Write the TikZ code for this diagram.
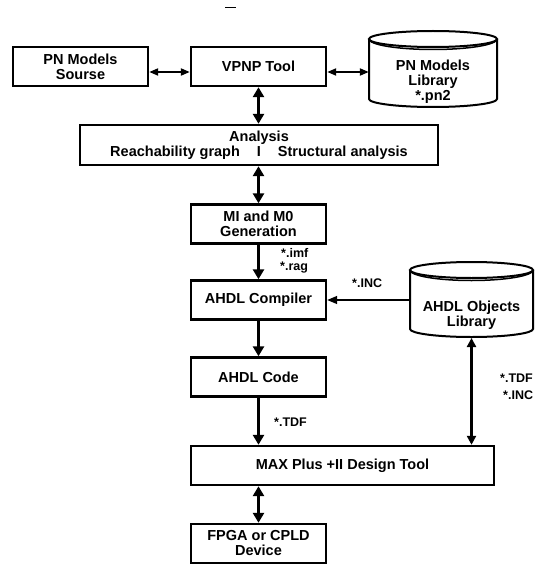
\documentclass[tikz,border=0pt]{standalone}
\usepackage{fontspec}
\setmainfont{Liberation Sans}
\usetikzlibrary{arrows.meta}
\tikzset{
  box/.style={draw, line width=2.4pt, minimum width=135pt, minimum height=39pt, inner sep=0pt, align=center, font=\bfseries\fontsize{14.5}{15}\selectfont},
  cyltext/.style={inner sep=0pt, align=center, font=\bfseries\fontsize{14.5}{15}\selectfont},
  cylline/.style={line width=2pt},
  cylrim/.style={line width=1.5pt},
  big/.style={line width=3.5pt, -{Triangle[length=10pt,width=11pt]}},
  bigdbl/.style={line width=3.5pt, {Triangle[length=10pt,width=11pt]}-{Triangle[length=10pt,width=11pt]}},
  meddbl/.style={line width=2.6pt, {Triangle[length=9pt,width=9pt]}-{Triangle[length=9pt,width=9pt]}},
  thindbl/.style={line width=2pt, {Triangle[length=9pt,width=7pt]}-{Triangle[length=9pt,width=7pt]}},
  incarrow/.style={line width=1.5pt, -{Triangle[length=10pt,width=8pt]}},
  lbl/.style={font=\bfseries\fontsize{12.5}{14}\selectfont, inner sep=0pt, anchor=west},
}
\begin{document}
\begin{tikzpicture}[x=1pt,y=-1pt]
\fill[white] (0,0) rectangle (537,567);
\useasboundingbox (0,0) rectangle (537,567);
% small dash at top
\draw[line width=1pt] (225,7.5) -- (236,7.5);
% cylinders
\draw[cylline,fill=white] (369,39) -- (369,99) arc[start angle=180,end angle=360,x radius=64pt,y radius=8pt] -- (497,39);
\draw[cylline] (433,39) ellipse[x radius=64pt,y radius=8pt];
\draw[cylrim] (369,39) arc[start angle=180,end angle=360,x radius=64pt,y radius=10.5pt];
\draw[cylline,fill=white] (410,270) -- (410,329) arc[start angle=180,end angle=360,x radius=61.5pt,y radius=8pt] -- (533,270);
\draw[cylline] (471.5,270) ellipse[x radius=61.5pt,y radius=8pt];
\draw[cylrim] (410,270) arc[start angle=180,end angle=360,x radius=61.5pt,y radius=10.5pt];
% nodes
\node[box] (src) at (80.5,66.5) {PN Models\\Sourse};
\node[box] (vpnp) at (258.5,66.5) {VPNP Tool};
\node[cyltext, minimum width=128pt] (pnlib) at (433,82) {PN Models\\Library\\*.pn2};
\node[box, minimum width=358pt, minimum height=40pt] (ana) at (259,145) {Analysis\\Reachability graph\hspace{17pt}I\hspace{17pt}Structural analysis};
\node[box] (mi) at (258.5,224) {MI and M0\\Generation};
\node[box] (comp) at (258.5,300) {AHDL Compiler};
\node[box] (code) at (258.5,377) {AHDL Code};
\node[box, minimum width=303pt] (max) at (342.5,465.5) {MAX Plus +II Design Tool};
\node[box] (fpga) at (258.5,543.5) {FPGA or CPLD\\Device};
\node[cyltext, minimum width=123pt] (ahdl) at (471.5,315) {AHDL Objects\\Library};
% connectors
\coordinate (ay) at (0,72);
\draw[thindbl] (src.east |- ay) -- (vpnp.west |- ay);
\draw[thindbl] (vpnp.east |- ay) -- (pnlib.west |- ay);
\draw[bigdbl] (vpnp.south) -- (vpnp.south |- ana.north);
\draw[bigdbl] (ana.south -| mi.north) -- (mi.north);
\draw[big] (mi.south) -- (comp.north);
\draw[big] (comp.south) -- (code.north);
\draw[big] (code.south) -- (code.south |- max.north);
\draw[bigdbl] (max.south -| fpga.north) -- (fpga.north);
\draw[incarrow] (ahdl.west |- comp.east) -- (comp.east);
\coordinate (ahdlb) at (471.5,338);
\draw[meddbl] (ahdlb) -- (ahdlb |- max.north);
% labels
\node[lbl] (limf) at (281,253) {*.imf};
\node[lbl] (lrag) at (280,268) {*.rag};
\node[lbl] (linc) at (352,283) {*.INC};
\node[lbl] (ltdf) at (274,422) {*.TDF};
\node[lbl] (rtdf) at (500,378) {*.TDF};
\node[lbl] (rinc) at (503,395) {*.INC};
\end{tikzpicture}
\end{document}
